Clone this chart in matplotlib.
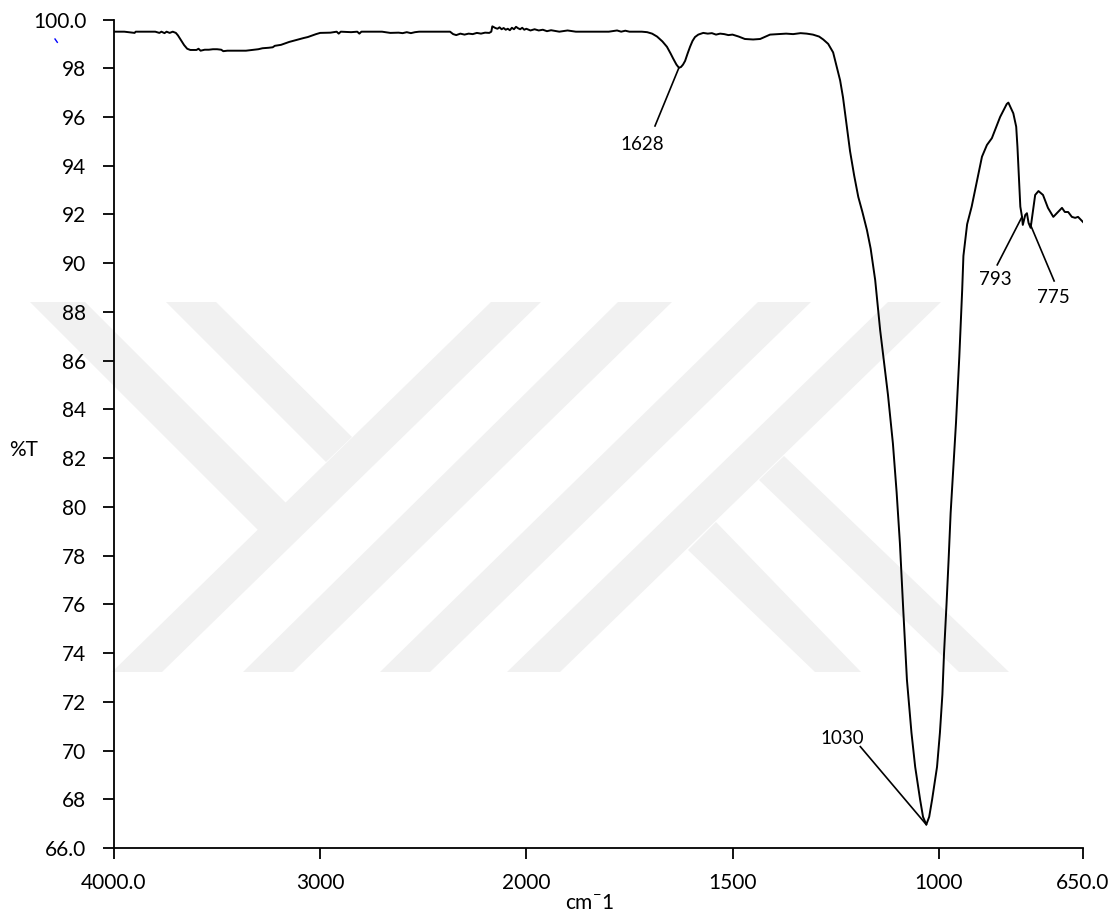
import numpy as np
import matplotlib
matplotlib.use("Agg")
import matplotlib.pyplot as plt
from matplotlib.patches import Polygon
from matplotlib.lines import Line2D
from matplotlib.transforms import Affine2D

# FTIR spectrum (cm-1, %T)
wavenumber = [
    4000, 3950, 3900, 3895, 3800, 3780, 3770, 3755, 3745, 3730, 3715, 3700,
    3690, 3675, 3660, 3645, 3630, 3600, 3590, 3580, 3560, 3540, 3520, 3500,
    3480, 3470, 3450, 3400, 3360, 3330, 3300, 3280, 3250, 3230, 3220, 3190,
    3170, 3150, 3120, 3100, 3080, 3060, 3040, 3020, 3000, 2950, 2920, 2910,
    2900, 2850, 2820, 2810, 2800, 2750, 2700, 2660, 2620, 2600, 2580, 2560,
    2540, 2520, 2450, 2370, 2355, 2340, 2320, 2300, 2280, 2260, 2240, 2220,
    2200, 2180, 2170, 2165, 2150, 2140, 2130, 2120, 2110, 2100, 2090, 2080,
    2070, 2060, 2050, 2040, 2030, 2020, 2010, 2000, 1990, 1980, 1970, 1960,
    1950, 1940, 1920, 1900, 1880, 1850, 1800, 1780, 1770, 1760, 1750, 1720,
    1707, 1695, 1683, 1670, 1659, 1650, 1644, 1636, 1630, 1625, 1620, 1615,
    1609, 1603, 1597, 1591, 1583, 1571, 1560, 1550, 1540, 1530, 1520, 1510,
    1500, 1485, 1470, 1450, 1433, 1420, 1409, 1390, 1370, 1353, 1335, 1320,
    1305, 1290, 1280, 1268, 1256, 1248, 1239, 1232, 1227, 1222, 1215, 1205,
    1195, 1185, 1174, 1165, 1154, 1142, 1133, 1123, 1111, 1102, 1094, 1086,
    1077, 1066, 1057, 1045, 1038, 1030, 1023, 1016, 1004, 997, 991, 987,
    981, 976, 971, 967, 958, 950, 943, 940, 931, 920, 895, 883, 871, 851,
    835, 831, 819, 812, 809, 805, 802, 798, 796, 790, 786, 782, 777, 770,
    766, 758, 747, 735, 722, 713, 701, 694, 686, 677, 669, 662, 650,
]
transmittance = [
    99.5, 99.5, 99.45, 99.5, 99.5, 99.45, 99.5, 99.44, 99.5, 99.45, 99.5, 99.45,
    99.35, 99.15, 98.95, 98.8, 98.75, 98.75, 98.8, 98.72, 98.76, 98.76, 98.78, 98.78,
    98.76, 98.7, 98.72, 98.72, 98.72, 98.75, 98.78, 98.82, 98.84, 98.86, 98.92, 98.96,
    99.02, 99.08, 99.15, 99.2, 99.24, 99.28, 99.34, 99.4, 99.45, 99.46, 99.5, 99.42,
    99.5, 99.48, 99.5, 99.42, 99.5, 99.5, 99.5, 99.45, 99.46, 99.44, 99.48, 99.44,
    99.48, 99.5, 99.5, 99.5, 99.4, 99.36, 99.42, 99.38, 99.42, 99.4, 99.45, 99.42,
    99.46, 99.45, 99.5, 99.72, 99.65, 99.62, 99.68, 99.6, 99.65, 99.58, 99.62, 99.56,
    99.66, 99.6, 99.7, 99.64, 99.6, 99.66, 99.58, 99.62, 99.55, 99.6, 99.55, 99.58,
    99.52, 99.56, 99.5, 99.55, 99.5, 99.5, 99.5, 99.55, 99.5, 99.54, 99.5, 99.5,
    99.48, 99.42, 99.3, 99.1, 98.88, 98.6, 98.4, 98.15, 98.02, 98.05, 98.15, 98.3,
    98.6, 98.88, 99.12, 99.28, 99.38, 99.45, 99.42, 99.44, 99.38, 99.42, 99.4, 99.36,
    99.38, 99.3, 99.2, 99.18, 99.2, 99.3, 99.38, 99.4, 99.42, 99.4, 99.44, 99.42,
    99.38, 99.3, 99.18, 99.0, 98.65, 98.1, 97.5, 96.8, 96.16, 95.5, 94.6, 93.6,
    92.72, 92.1, 91.36, 90.6, 89.31, 87.26, 86.0, 84.6, 82.6, 80.6, 78.5, 75.8,
    72.9, 70.73, 69.33, 67.98, 67.28, 66.96, 67.28, 67.98, 69.33, 70.73, 72.3, 74.0,
    76.0, 77.8, 79.75, 80.9, 83.45, 86.15, 88.9, 90.3, 91.6, 92.32, 94.37, 94.85, 95.13, 96.0,
    96.53, 96.59, 96.15, 95.6, 94.78, 93.42, 92.32, 91.91, 91.57, 91.98, 92.05, 91.65, 91.45, 92.32,
    92.8, 92.96, 92.8, 92.27, 91.9, 92.06, 92.27, 92.1, 92.1, 91.9, 91.86, 91.9, 91.69,
]

peak_labels = ["1628", "1030", "793", "775"]
peak_points = [(1630, 98.02), (1030, 66.96), (798, 91.9), (778, 91.6)]
leader_ends = [(1688, 95.63), (1190, 70.16), (858, 89.93), (720, 89.27)]
label_points = [(1719, 94.87), (1234, 70.5), (863, 89.33), (722, 88.6)]

xticks = [4000, 3000, 2000, 1500, 1000, 650]
xtick_labels = ["4000.0", "3000", "2000", "1500", "1000", "650.0"]
yticks = list(range(66, 101, 2))
ytick_labels = ["66.0"] + [str(v) for v in range(68, 100, 2)] + ["100.0"]

W, H = 1114, 921

# background watermark bands (figure pixels)
watermark = [
    [(30, 302), (85, 302), (286, 503), (258, 530)],
    [(166, 302), (216, 302), (352, 437), (326, 462)],
    [(491, 302), (541, 302), (162, 672), (112, 672)],
    [(618, 302), (672, 302), (293, 672), (243, 672)],
    [(758, 302), (811, 302), (430, 672), (380, 672)],
    [(888, 302), (941, 302), (560, 672), (507, 672)],
    [(688, 550), (716, 522), (861, 672), (815, 672)],
    [(759, 480), (784, 456), (1009, 672), (959, 672)],
]

plt.rcParams["font.family"] = ["Lato", "DejaVu Sans"]
plt.rcParams["mathtext.fontset"] = "custom"
plt.rcParams["mathtext.rm"] = "Lato"


# FTIR axis: scale halves above 2000 cm-1
def _fwd(w):
    w = np.asarray(w, dtype=float)
    return -np.where(w >= 2000, (4000 - w) / 2.0, 1000 + (2000 - w))


def _inv(v):
    u = -np.asarray(v, dtype=float)
    return np.where(u <= 1000, 4000 - 2.0 * u, 3000 - u)


fig = plt.figure(figsize=(W / 100, H / 100), dpi=100)
pix = Affine2D().scale(1.0 / W, -1.0 / H).translate(0, 1) + fig.transFigure

for poly in watermark:
    fig.add_artist(Polygon(poly, closed=True, transform=pix,
                           facecolor="#f1f1f1", edgecolor="none", zorder=-1))
fig.add_artist(Line2D([55, 57.3], [39, 42.3], transform=pix, color="blue", lw=1))

ax = fig.add_axes([114 / W, 1 - 848 / H, 969 / W, 828.5 / H])
ax.set_facecolor("none")
ax.set_xscale("function", functions=(_fwd, _inv))
ax.set_xlim(4000, 650)
ax.set_ylim(66, 100)

ax.plot(wavenumber, transmittance, color="black", lw=1.4)

for lab, p, e, t in zip(peak_labels, peak_points, leader_ends, label_points):
    ax.plot([p[0], e[0]], [p[1], e[1]], color="black", lw=1.2)
    ax.text(t[0], t[1], lab, ha="center", va="center", fontsize=13.5)

for side in ["top", "right"]:
    ax.spines[side].set_visible(False)
for side in ["left", "bottom"]:
    ax.spines[side].set_linewidth(1.3)

ax.set_xticks(xticks)
ax.set_xticklabels(xtick_labels)
ax.xaxis.set_minor_locator(matplotlib.ticker.NullLocator())
ax.set_yticks(yticks)
ax.set_yticklabels(ytick_labels)
ax.tick_params(axis="both", direction="out", length=8, width=1.3, labelsize=15)
ax.tick_params(axis="y", pad=12)
ax.tick_params(axis="x", pad=10)

ax.set_xlabel(r"cm$^{\mathrm{-}}$1", fontsize=15)
ax.xaxis.set_label_coords((590 - 114) / 969, (848 - 893) / 828.5)
ax.set_ylabel("%T", fontsize=15, rotation=0, ha="center", va="center")
ax.yaxis.set_label_coords((24 - 114) / 969, (848 - 450) / 828.5)

fig.savefig("out.png", dpi=100)
